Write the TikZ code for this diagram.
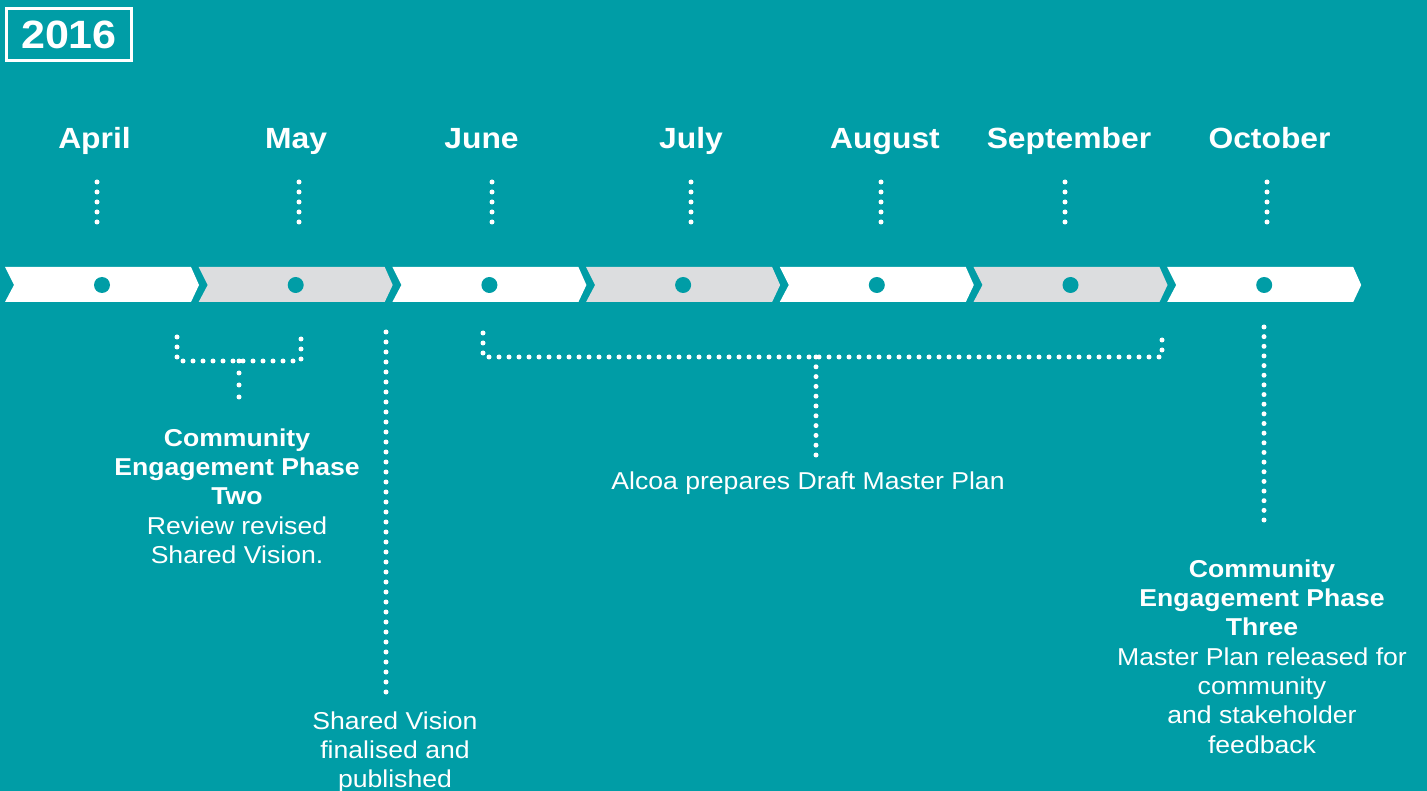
\documentclass[tikz,border=0pt]{standalone}
\usepackage{fontspec}
\setmainfont[FakeStretch=1.09]{Liberation Sans}
\definecolor{bgteal}{HTML}{009DA6}
\definecolor{chevgrey}{HTML}{DCDDDF}
\begin{document}
\begin{tikzpicture}[x=1pt,y=-1pt,
  dotline/.style={white,line width=5pt,line cap=round,dash pattern=on 0pt off 10pt},
  month/.style={text=white,font=\fontsize{29.2}{34}\selectfont\bfseries,anchor=base,inner sep=0pt},
  body/.style={text=white,font=\fontsize{24.4}{29.3}\selectfont,align=center,anchor=north,inner sep=0pt},
  tdot/.style={circle,fill=bgteal,minimum size=16pt,inner sep=0pt}]
\fill[bgteal] (0,0) rectangle (1427,791);
\useasboundingbox (0,0) rectangle (1427,791);

% year box
\node[draw=white,line width=2.5pt,minimum width=125pt,minimum height=52pt,inner sep=0pt,
  text=white,font=\fontsize{39.5}{40}\selectfont\bfseries] (year) at (69,34.5) {2016};

% chevrons
\foreach \i in {0,...,6}{
  \pgfmathsetmacro{\xo}{5+193.7*\i}
  \pgfmathtruncatemacro{\odd}{mod(\i,2)}
  \ifnum\odd=0 \def\cc{white}\else\def\cc{chevgrey}\fi
  \fill[\cc] (\xo,267) -- (\xo+186,267) -- (\xo+194,285) -- (\xo+186,302) -- (\xo,302) -- (\xo+9,285) -- cycle;
  \node[tdot] (d\i) at (\xo+97,285) {};
}

% months
\node[month] (apr) at (94.5,148.5) {April};
\node[month] (may) at (296,148.5) {May};
\node[month] (jun) at (481.5,148.5) {June};
\node[month] (jul) at (691,148.5) {July};
\node[month] (aug) at (885,148.5) {August};
\node[month] (sep) at (1069,148.5) {September};
\node[month] (oct) at (1269.5,148.5) {October};

% dotted lines below month names
\foreach \n/\x in {a/97,b/299,c/492,d/691,e/881,f/1065,g/1267}{
  \coordinate (t\n) at (\x,182);
  \coordinate (b\n) at (\x,222.5);
  \draw[dotline] (t\n) -- (b\n);
}

% texts
\node[body] (two) at (237,428.5) {\textbf{Community}\\\textbf{Engagement Phase}\\\textbf{Two}\\Review revised\\Shared Vision.};
\node[body] (alcoa) at (808,471.5) {Alcoa prepares Draft Master Plan};
\node[body] (shared) at (395,711.5) {Shared Vision\\finalised and\\published};
\node[body] (three) at (1262,559.5) {\textbf{Community}\\\textbf{Engagement Phase}\\\textbf{Three}\\Master Plan released for\\community\\and stakeholder\\feedback};

% brackets and connectors
\coordinate (p1a) at (177,337); \coordinate (p1b) at (177,361);
\coordinate (p1c) at (301,361); \coordinate (p1d) at (301,337);
\coordinate (p1s) at (239,361); \coordinate (p1e) at (239,397.5);
\draw[dotline] (p1a) -- (p1b) -- (p1c) -- (p1d);
\draw[dotline,dash pattern=on 0pt off 12pt] (p1s) -- (p1e);

\coordinate (svt) at (386,332); \coordinate (svb) at (386,692.5);
\draw[dotline] (svt) -- (svb);

\coordinate (p2a) at (483,333); \coordinate (p2b) at (483,357);
\coordinate (p2c) at (1162,357); \coordinate (p2d) at (1162,332);
\coordinate (p2s) at (816,357); \coordinate (p2e) at (816,455.5);
\draw[dotline] (p2a) -- (p2b) -- (p2c) -- (p2d);
\draw[dotline,dash pattern=on 0pt off 9.8pt] (p2s) -- (p2e);

\coordinate (oct1) at (1264,327); \coordinate (oct2) at (1264,520.5);
\draw[dotline,dash pattern=on 0pt off 9.65pt] (oct1) -- (oct2);
\end{tikzpicture}
\end{document}
